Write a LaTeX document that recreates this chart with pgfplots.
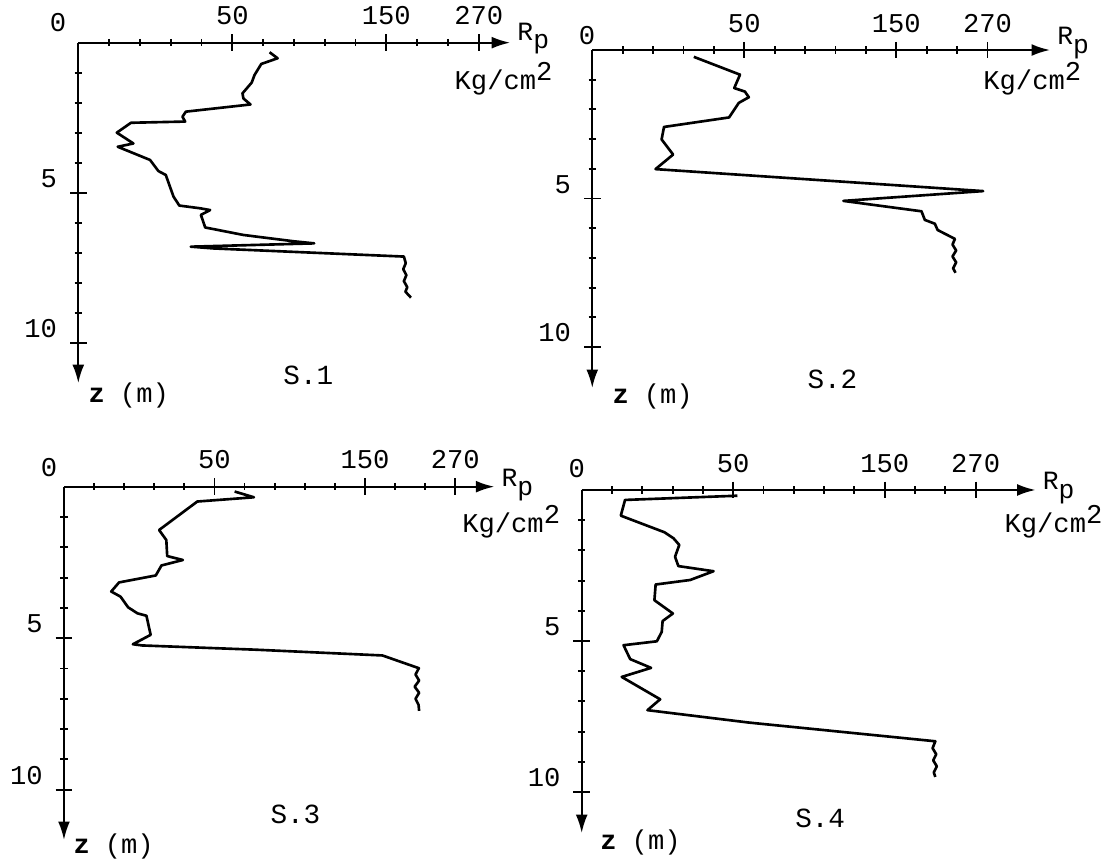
\documentclass[border=0pt]{standalone}
\usepackage{fontspec}
\setmainfont{Liberation Mono}
\usepackage{pgfplots}
\pgfplotsset{compat=1.18}
\usetikzlibrary{arrows.meta}

\newcommand{\fA}{\fontsize{10.3}{12}\selectfont}
\newcommand{\fS}{\fontsize{10.5}{12}\selectfont}
\newcommand{\fR}{\fontsize{10}{12}\selectfont}
\newcommand{\Rp}{R\raisebox{-0.6ex}{p}}
\newcommand{\unitlab}{Kg/cm\raisebox{0.6ex}{2}}

\pgfplotsset{
  sondage/.style={
    anchor=origin,
    y dir=reverse,
    axis x line=top,
    axis y line=left,
    axis line style={line width=0.8pt, -{Latex[length=7pt,width=4.5pt]}},
    xmin=0, ymin=0,
    xtick={5,10,13}, xticklabels={50,150,270},
    minor xtick={1,2,3,4,6,7,8,9,11,12},
    ytick={5,10},
    minor ytick={1,2,3,4,6,7,8,9},
    tick align=center,
    major tick length=0.22cm,
    minor tick length=0.1cm,
    tick style={line width=0.7pt, black},
    tick label style={font=\fA},
    yticklabel style={yshift=0.19cm, xshift=-0.05cm},
    /pgf/number format/assume math mode=true,
    clip=false,
  },
  profil/.style={black, line width=1pt, line join=round, no markers},
}

\begin{document}
\begin{tikzpicture}
\useasboundingbox (0,0) rectangle (14.76cm,11.52cm);

% S.1
\begin{axis}[sondage, at={(1.044cm,10.951cm)},
  x=0.4107cm, y=0.4cm, xmax=14.02, ymax=11.35]
\addplot[profil] coordinates {
 (6.21,0.32) (6.47,0.52) (5.94,0.71) (5.72,1.08) (5.63,1.33) (5.33,1.69)
 (5.36,1.86) (5.59,2.06) (3.49,2.30) (3.38,2.47) (3.47,2.63) (1.71,2.67)
 (1.25,3.00) (1.79,3.36) (1.28,3.47) (2.33,3.91) (2.60,4.28) (2.84,4.41)
 (3.09,5.13) (3.28,5.43) (3.95,5.52) (4.28,5.58) (3.98,5.74) (4.12,6.16)
 (5.36,6.41) (6.99,6.62) (7.66,6.69) (3.65,6.80) (4.40,6.86) (10.57,7.13)
 (10.63,7.35) (10.55,7.55) (10.65,7.75) (10.57,7.95) (10.68,8.15)
 (10.62,8.30) (10.80,8.50)};
\node[font=\fA, anchor=base, inner sep=0pt, yshift=0.147cm] at (axis cs:-0.66,0) {0};
\node[font=\fR, anchor=base west, inner sep=0pt, xshift=0.09cm, yshift=0.03cm] at (axis cs:14.02,0) {\Rp};
\node[font=\fA, anchor=base east, inner sep=0pt] at (axis cs:15.41,1.55) {\unitlab};
\node[font=\fA, anchor=base west, inner sep=0pt] at (axis cs:0.32,11.98) {\textbf{z}\hspace{0.2cm}(m)};
\node[font=\fS, anchor=base, inner sep=0pt] at (axis cs:7.47,11.41) {S.1};
\end{axis}

% S.2
\begin{axis}[sondage, at={(7.897cm,10.853cm)},
  x=0.4053cm, y=0.396cm, xmax=15.06, ymax=11.38]
\addplot[profil] coordinates {
 (3.34,0.23) (4.86,0.83) (4.67,1.28) (5.02,1.40) (5.15,1.59) (4.82,1.78)
 (4.50,2.27) (2.36,2.59) (2.28,3.01) (2.66,3.52) (2.08,4.01) (12.86,4.75)
 (8.26,5.08) (10.83,5.43) (10.94,5.72) (11.27,5.85) (11.36,6.06)
 (11.93,6.36) (11.85,6.55) (11.97,6.75) (11.85,6.95) (11.97,7.15)
 (11.87,7.35) (11.95,7.50)};
\node[font=\fA, anchor=base, inner sep=0pt, yshift=0.067cm] at (axis cs:-0.17,0) {0};
\node[font=\fR, anchor=base west, inner sep=0pt, xshift=0.09cm, yshift=0.067cm] at (axis cs:15.06,0) {\Rp};
\node[font=\fA, anchor=base east, inner sep=0pt] at (axis cs:16.1,1.32) {\unitlab};
\node[font=\fA, anchor=base west, inner sep=0pt] at (axis cs:0.65,11.9) {\textbf{z}\hspace{0.2cm}(m)};
\node[font=\fS, anchor=base, inner sep=0pt] at (axis cs:7.9,11.38) {S.2};
\end{axis}

% S.3
\begin{axis}[sondage, at={(0.853cm,5.031cm)},
  x=0.4013cm, y=0.404cm, xmax=14.3, ymax=11.66]
\addplot[profil] coordinates {
 (5.67,0.16) (6.31,0.35) (4.43,0.49) (3.16,1.43) (3.40,1.76) (3.43,2.29)
 (3.95,2.42) (3.24,2.60) (3.05,2.93) (1.83,3.16) (1.57,3.46) (1.88,3.63)
 (2.13,3.98) (2.44,4.18) (2.74,4.26) (2.88,4.89) (2.29,5.20) (2.60,5.24)
 (6.37,5.38) (10.58,5.57) (11.79,5.99) (11.68,6.20) (11.80,6.40)
 (11.65,6.60) (11.80,6.80) (11.68,7.00) (11.78,7.20) (11.80,7.40)};
\node[font=\fA, anchor=base, inner sep=0pt, yshift=0.133cm] at (axis cs:-0.5,0) {0};
\node[font=\fR, anchor=base west, inner sep=0pt, xshift=0.09cm] at (axis cs:14.3,0) {\Rp};
\node[font=\fA, anchor=base east, inner sep=0pt] at (axis cs:16.5,1.5) {\unitlab};
\node[font=\fA, anchor=base west, inner sep=0pt] at (axis cs:0.3,12.09) {\textbf{z}\hspace{0.2cm}(m)};
\node[font=\fS, anchor=base, inner sep=0pt] at (axis cs:7.69,11.1) {S.3};
\end{axis}

% S.4
\begin{axis}[sondage, at={(7.756cm,4.987cm)},
  x=0.404cm, y=0.4027cm, xmax=14.98, ymax=11.36]
\addplot[profil] coordinates {
 (5.14,0.19) (1.43,0.33) (1.29,0.85) (2.73,1.40) (3.03,1.60) (3.22,1.82)
 (3.08,2.21) (3.19,2.52) (4.35,2.69) (3.58,2.98) (2.44,3.13) (2.40,3.65)
 (3.01,4.09) (2.67,4.34) (2.64,4.70) (2.48,5.01) (1.38,5.14) (1.60,5.60)
 (2.29,5.89) (1.32,6.19) (2.59,6.93) (2.17,7.29) (5.51,7.70) (11.67,8.32)
 (11.58,8.55) (11.70,8.75) (11.60,8.95) (11.72,9.15) (11.62,9.35)
 (11.67,9.50)};
\node[font=\fA, anchor=base, inner sep=0pt, yshift=0.16cm] at (axis cs:-0.16,0) {0};
\node[font=\fR, anchor=base west, inner sep=0pt, xshift=0.09cm] at (axis cs:14.98,0) {\Rp};
\node[font=\fA, anchor=base east, inner sep=0pt] at (axis cs:17.2,1.4) {\unitlab};
\node[font=\fA, anchor=base west, inner sep=0pt] at (axis cs:0.6,11.92) {\textbf{z}\hspace{0.2cm}(m)};
\node[font=\fS, anchor=base, inner sep=0pt] at (axis cs:7.87,11.19) {S.4};
\end{axis}
\end{tikzpicture}
\end{document}
